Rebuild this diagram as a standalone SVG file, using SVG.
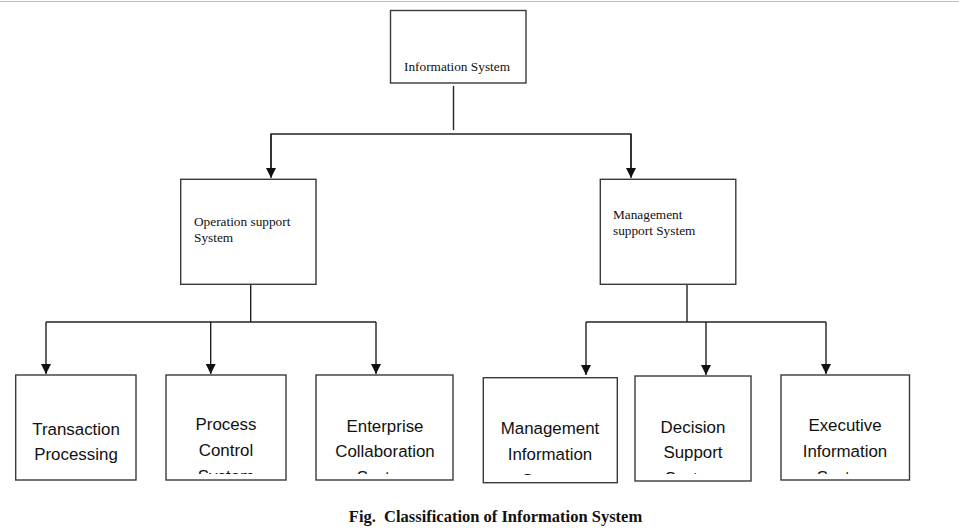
<svg xmlns="http://www.w3.org/2000/svg" width="959" height="531" viewBox="0 0 959 531">
<style>
.box{fill:#fff;stroke:#3a3a3a;stroke-width:1.4}
.ln{fill:none;stroke:#222;stroke-width:1.4}
.serif{font-family:"Liberation Serif","Times New Roman",serif;font-size:13.3px;fill:#111}
.sans{font-family:"Liberation Sans",Arial,sans-serif;font-size:16.9px;fill:#111;text-anchor:middle}
.cap{font-family:"Liberation Serif","Times New Roman",serif;font-size:16.5px;font-weight:bold;fill:#111;text-anchor:middle;white-space:pre}
</style>
<defs>
<marker id="arr" viewBox="0 0 10 10" refX="10" refY="5" markerWidth="11" markerHeight="10" markerUnits="userSpaceOnUse" orient="auto">
<path d="M0,0 L10,5 L0,10 Z" fill="#111"/>
</marker>
<clipPath id="c1"><rect x="16" y="376" width="120" height="98"/></clipPath>
<clipPath id="c2"><rect x="166" y="376" width="120" height="98"/></clipPath>
<clipPath id="c3"><rect x="316" y="376" width="137" height="98"/></clipPath>
<clipPath id="c4"><rect x="483" y="379" width="134" height="96"/></clipPath>
<clipPath id="c5"><rect x="635" y="377" width="116" height="97"/></clipPath>
<clipPath id="c6"><rect x="781" y="376" width="128" height="98"/></clipPath>
</defs>
<rect width="959" height="531" fill="#fff"/>
<line x1="0" y1="1.5" x2="959" y2="1.5" stroke="#bbb" stroke-width="1.2"/>

<g id="connectors">
<line class="ln" x1="453.5" y1="86" x2="453.5" y2="130"/>
<polyline class="ln" points="271,170 271,134 631,134 631,170"/>
<line class="ln" x1="271" y1="134" x2="271" y2="178" marker-end="url(#arr)"/>
<line class="ln" x1="631" y1="134" x2="631" y2="178" marker-end="url(#arr)"/>
<line class="ln" x1="250.7" y1="284" x2="250.7" y2="322"/>
<line class="ln" x1="46" y1="322" x2="376" y2="322"/>
<line class="ln" x1="46" y1="322" x2="46" y2="374" marker-end="url(#arr)"/>
<line class="ln" x1="210.7" y1="322" x2="210.7" y2="374" marker-end="url(#arr)"/>
<line class="ln" x1="376" y1="322" x2="376" y2="374" marker-end="url(#arr)"/>
<line class="ln" x1="687" y1="284" x2="687" y2="322"/>
<line class="ln" x1="586" y1="322" x2="826" y2="322"/>
<line class="ln" x1="586" y1="322" x2="586" y2="375" marker-end="url(#arr)"/>
<line class="ln" x1="706" y1="322" x2="706" y2="375" marker-end="url(#arr)"/>
<line class="ln" x1="826" y1="322" x2="826" y2="374" marker-end="url(#arr)"/>
</g>

<g id="information-system">
<rect class="box" x="390.5" y="10.5" width="135.5" height="72.5"/>
<text class="serif" x="404" y="71">Information System</text>
</g>
<g id="operation-support">
<rect class="box" x="180.7" y="179.3" width="135.3" height="105"/>
<text class="serif" x="194" y="226">Operation support</text>
<text class="serif" x="194" y="242">System</text>
</g>
<g id="management-support">
<rect class="box" x="600.3" y="179.3" width="135.5" height="105"/>
<text class="serif" x="613" y="219">Management</text>
<text class="serif" x="613" y="235">support System</text>
</g>

<g id="transaction-processing">
<rect class="box" x="15.7" y="375" width="120.3" height="105"/>
<g clip-path="url(#c1)">
<text class="sans" x="76" y="435">Transaction</text>
<text class="sans" x="76" y="460">Processing</text>
</g>
</g>
<g id="process-control">
<rect class="box" x="166" y="375" width="120" height="105"/>
<g clip-path="url(#c2)">
<text class="sans" x="226" y="430">Process</text>
<text class="sans" x="226" y="456">Control</text>
<text class="sans" x="226" y="482">System</text>
</g>
</g>
<g id="enterprise-collaboration">
<rect class="box" x="316" y="375" width="137" height="105"/>
<g clip-path="url(#c3)">
<text class="sans" x="385" y="432">Enterprise</text>
<text class="sans" x="385" y="457">Collaboration</text>
<text class="sans" x="385" y="483">System</text>
</g>
</g>
<g id="management-information">
<rect class="box" x="483.3" y="377.7" width="134" height="105"/>
<g clip-path="url(#c4)">
<text class="sans" x="550" y="434">Management</text>
<text class="sans" x="550" y="460">Information</text>
<text class="sans" x="550" y="486">System</text>
</g>
</g>
<g id="decision-support">
<rect class="box" x="635" y="376" width="116" height="105"/>
<g clip-path="url(#c5)">
<text class="sans" x="693" y="433">Decision</text>
<text class="sans" x="693" y="458">Support</text>
<text class="sans" x="693" y="484">System</text>
</g>
</g>
<g id="executive-information">
<rect class="box" x="781" y="375" width="128.5" height="105"/>
<g clip-path="url(#c6)">
<text class="sans" x="845" y="431">Executive</text>
<text class="sans" x="845" y="457">Information</text>
<text class="sans" x="845" y="483">System</text>
</g>
</g>

<text class="cap" x="495.5" y="522" xml:space="preserve">Fig.  Classification of Information System</text>
</svg>
